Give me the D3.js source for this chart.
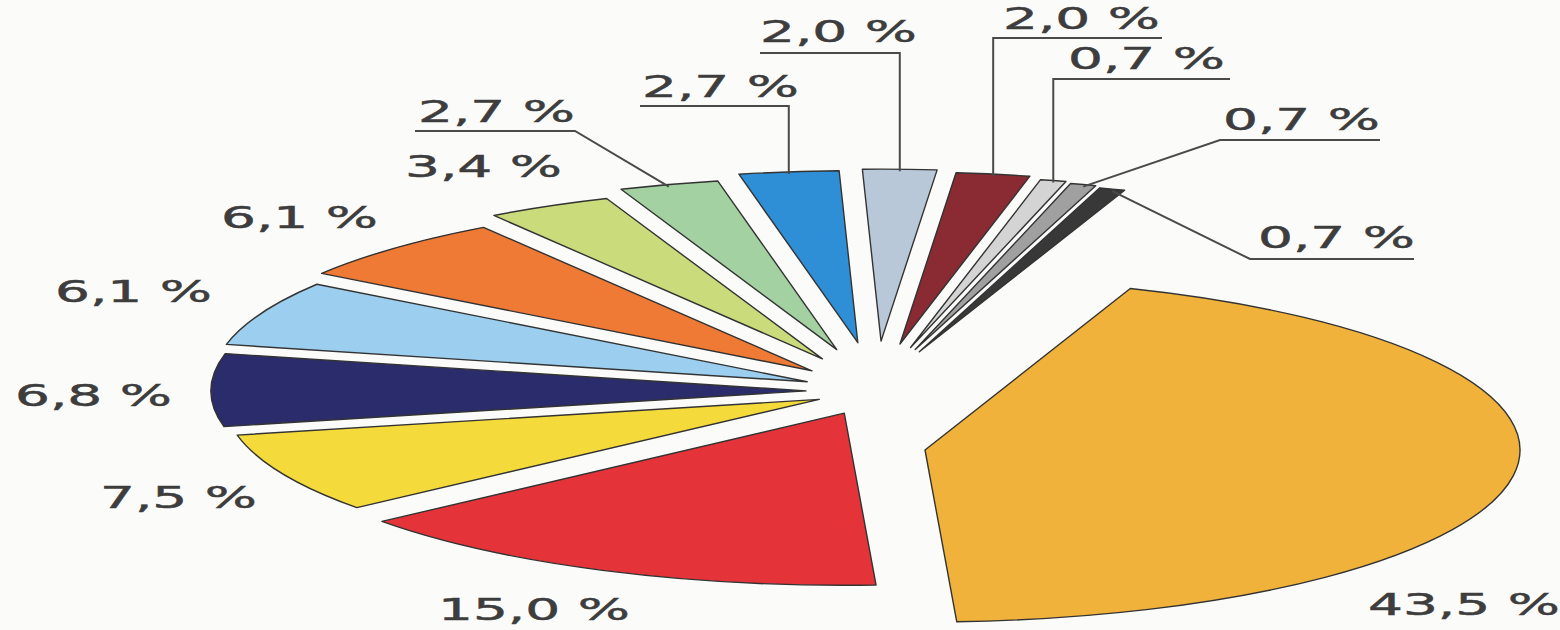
<!DOCTYPE html>
<html>
<head>
<meta charset="UTF-8">
<script src="https://d3js.org/d3.v7.min.js"></script>
<style>
  body { margin: 0; background: #fbfbfa; }
  #pie { display: block; }
  .lbl { font-family: 'DejaVu Sans', sans-serif; font-size: 30px; fill: #3d3d3d; stroke: #3d3d3d; stroke-width: 0.5; }
</style>
</head>
<body>
<svg id="pie"></svg>
<script>
// shares (%) clockwise from 12 o'clock
const shares = [2.0, 2.0, 0.7, 0.7, 0.7, 43.5, 15.0, 7.5, 6.8, 6.1, 6.1, 3.4, 2.7, 2.7];
const sliceColors = ["#b9c8d8", "#8a2a33", "#d4d4d4", "#a0a0a0", "#383838", "#f0b23a", "#e4343a",
  "#f5da3c", "#2a2c6b", "#9ccfef", "#ee7a36", "#cadb7c", "#a3d1a1", "#2e8ed6"];

// label layout: text start, baseline, optional underline + leader to the slice
const labelSpots = [
  {x: 760, y: 42, line: {y: 53, far: 760, v: true}},
  {x: 1003, y: 29, line: {y: 38, far: 1162, v: true}},
  {x: 1068, y: 69, line: {y: 79, far: 1230, v: true}},
  {x: 1223, y: 130, line: {y: 140, far: 1380, near: 1220}},
  {x: 1258, y: 248, line: {y: 259, far: 1414, near: 1250}},
  {x: 1368, y: 615},
  {x: 438, y: 620},
  {x: 100, y: 508},
  {x: 15, y: 406},
  {x: 55, y: 302},
  {x: 221, y: 228},
  {x: 405, y: 177},
  {x: 418, y: 122, line: {y: 131, far: 415, near: 575}},
  {x: 642, y: 97, line: {y: 106, far: 640, v: true}}
];

const W = 1560, H = 630;
const center = {x: 876, y: 391};
const radius = {x: 595, y: 172};
const pull = {x: 70, y: 50}, tilt = 2.3, nearShrink = 0.4;
const bigPull = {x: 49, y: 59};
const textStretch = 1.83;

const svg = d3.select('#pie').attr('width', W).attr('height', H);

const start = -1.8 * Math.PI / 180;
const pie = d3.pie().sort(null).value(d => d).startAngle(start).endAngle(start + 2 * Math.PI);
const arcs = pie(shares);
const biggest = d3.maxIndex(shares);

const arcGen = d3.arc().innerRadius(0).outerRadius(radius.y);

arcs.forEach((a, i) => {
  const m = (a.startAngle + a.endAngle) / 2;
  a.mid = m;
  if(i === biggest){
    a.ox = center.x + bigPull.x;
    a.oy = center.y + bigPull.y;
  }else{
    const ux = tilt * Math.sin(m), uy = -Math.cos(m);
    const n = Math.hypot(ux, uy);
    // slices toward the viewer are pulled out less
    const k = 1 - nearShrink * Math.max(0, -Math.cos(m));
    a.ox = center.x + k * pull.x * ux / n;
    a.oy = center.y + k * pull.y * uy / n;
  }
  // point on the outer rim at mid angle
  a.rimX = a.ox + radius.x * Math.sin(m);
  a.rimY = a.oy - radius.y * Math.cos(m);
});

svg.append('g')
  .selectAll('path')
  .data(arcs)
  .join('path')
  .attr('d', arcGen)
  .attr('transform', d => `translate(${d.ox},${d.oy}) scale(${radius.x / radius.y},1)`)
  .attr('fill', (d, i) => sliceColors[i])
  .attr('stroke', '#333')
  .attr('stroke-width', 1.4)
  .attr('stroke-linejoin', 'round')
  .attr('vector-effect', 'non-scaling-stroke');

const fmt = d3.formatLocale({decimal: ',', thousands: ' ', grouping: [3], currency: ['', '']}).format('.1f');

// leaders
svg.append('g')
  .selectAll('path')
  .data(arcs.filter((d, i) => labelSpots[i].line))
  .join('path')
  .attr('d', d => {
    const L = labelSpots[d.index].line;
    if(L.v){
      return `M${L.far},${L.y}H${d.rimX}V${d.rimY + 2}`;
    }
    return `M${L.far},${L.y}H${L.near}L${d.rimX},${d.rimY + 2}`;
  })
  .attr('fill', 'none')
  .attr('stroke', '#4a4a4a')
  .attr('stroke-width', 2);

svg.append('g')
  .selectAll('text')
  .data(arcs)
  .join('text')
  .attr('class', 'lbl')
  .attr('transform', d => `translate(${labelSpots[d.index].x},${labelSpots[d.index].y}) scale(${textStretch},1)`)
  .text(d => fmt(d.data) + ' %');
</script>
</body>
</html>
